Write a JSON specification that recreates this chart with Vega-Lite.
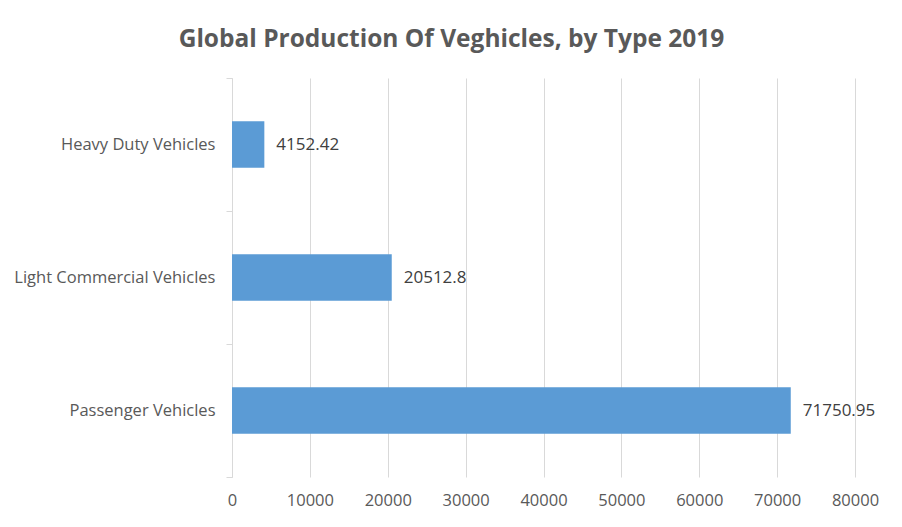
{
  "$schema": "https://vega.github.io/schema/vega-lite/v6.json",
  "autosize": {"type": "none"},
  "width": 623,
  "height": 399,
  "padding": {"left": 232, "top": 78, "right": 47, "bottom": 50},
  "background": "white",
  "title": {
    "text": "Global Production Of Veghicles, by Type 2019",
    "font": "Open Sans",
    "fontSize": 24.5,
    "fontWeight": "bold",
    "color": "#595959",
    "anchor": "middle",
    "dx": -92,
    "offset": 18
  },
  "config": {"view": {"stroke": null}},
  "data": {
    "values": [
      {"type": "Heavy Duty Vehicles", "value": 4152.42},
      {"type": "Light Commercial Vehicles", "value": 20512.8},
      {"type": "Passenger Vehicles", "value": 71750.95}
    ]
  },
  "encoding": {
    "y": {
      "field": "type",
      "type": "nominal",
      "sort": null,
      "scale": {"paddingInner": 0, "paddingOuter": 0},
      "axis": {
        "title": null,
        "tickBand": "extent",
        "domainColor": "#d9d9d9",
        "tickColor": "#d9d9d9",
        "tickSize": 6,
        "labelFont": "Open Sans",
        "labelFontSize": 16.5,
        "labelColor": "#595959",
        "labelPadding": 11,
        "labelLimit": 300
      }
    },
    "x": {
      "field": "value",
      "type": "quantitative",
      "scale": {"domain": [0, 80000], "nice": false},
      "axis": {
        "title": null,
        "values": [0, 10000, 20000, 30000, 40000, 50000, 60000, 70000, 80000],
        "format": "d",
        "grid": true,
        "gridColor": "#d9d9d9",
        "domain": false,
        "ticks": false,
        "labelFlush": false,
        "labelFont": "Open Sans",
        "labelFontSize": 16.5,
        "labelColor": "#595959",
        "labelPadding": 15
      }
    }
  },
  "layer": [
    {
      "mark": {"type": "bar", "color": "#5b9bd5", "height": {"band": 0.35}}
    },
    {
      "mark": {
        "type": "text",
        "align": "left",
        "baseline": "middle",
        "dx": 12,
        "font": "Open Sans",
        "fontSize": 17,
        "color": "#404040"
      },
      "encoding": {"text": {"field": "value", "type": "quantitative", "format": ".2~f"}}
    }
  ]
}
